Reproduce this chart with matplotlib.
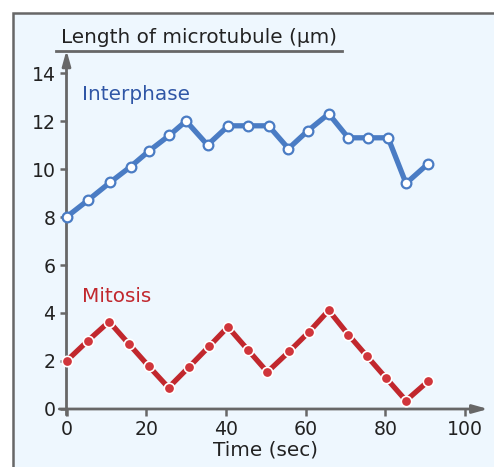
import matplotlib
matplotlib.use("Agg")
import matplotlib.pyplot as plt
from matplotlib.patches import Rectangle
from matplotlib.lines import Line2D

# data
inter_t = [0, 5.4, 11.0, 16.1, 20.7, 25.8, 30.0, 35.4, 40.6, 45.5,
           50.7, 55.7, 60.6, 65.8, 70.7, 75.7, 80.7, 85.2, 90.6]
inter_len = [8.0, 8.7, 9.45, 10.1, 10.75, 11.4, 12.0, 11.0, 11.8, 11.8,
             11.8, 10.85, 11.6, 12.3, 11.3, 11.3, 11.3, 9.4, 10.2]
mito_t = [0, 5.4, 10.7, 15.6, 20.6, 25.6, 30.8, 35.8, 40.5, 45.6,
          50.4, 55.9, 60.9, 65.8, 70.7, 75.4, 80.2, 85.2, 90.7]
mito_len = [2.0, 2.85, 3.64, 2.72, 1.79, 0.89, 1.76, 2.61, 3.42, 2.45,
            1.54, 2.40, 3.22, 4.11, 3.10, 2.2, 1.29, 0.35, 1.15]
xticks = [0, 20, 40, 60, 80, 100]
yticks = [0, 2, 4, 6, 8, 10, 12, 14]

W, H = 494, 467
bg = "#eef7fe"
axis_col = "#676767"
blue = "#4a7cc4"
red = "#c1272d"
fs = 14.4

fig = plt.figure(figsize=(W / 100, H / 100), dpi=100)
fig.patches.append(Rectangle((12.5 / W, -0.1), 1.2, (H - 12.5) / H + 0.1,
                             transform=fig.transFigure, facecolor=bg,
                             edgecolor=axis_col, linewidth=1.8, zorder=-5))

x0px, x1px = 66.5, 465.0
y0px, y14px = 409.0, 73.0
ax = fig.add_axes([x0px / W, (H - y0px) / H, (x1px - x0px) / W, (y0px - y14px) / H])
ax.set_facecolor("none")
ax.set_xlim(0, 100)
ax.set_ylim(0, 14)
for s in ax.spines.values():
    s.set_visible(False)

ax.set_xticks(xticks)
ax.set_yticks(yticks)
ax.tick_params(axis="both", colors=axis_col, width=1.8, length=5, labelsize=13.6,
               labelcolor="#222222", pad=3)

# axis lines with arrows
arrow = dict(arrowstyle="-|>,head_length=0.9,head_width=0.25",
             color=axis_col, lw=2, shrinkA=0, shrinkB=0)
ax.annotate("", xy=(105.8, 0), xytext=(-1.8, 0), arrowprops=arrow,
            annotation_clip=False)
ax.annotate("", xy=(0, 14.95), xytext=(0, -0.25), arrowprops=arrow,
            annotation_clip=False)

# y label with underline
fig.add_artist(Line2D([56 / W, 342 / W], [(H - 51) / H] * 2, color=axis_col, lw=2))
fig.text(61 / W, (H - 43) / H, "Length of microtubule (μm)", fontsize=fs,
         color="#222222", ha="left", va="baseline")

ax.plot(inter_t, inter_len, color=blue, lw=3.8, marker="o", markersize=7,
        markerfacecolor="white", markeredgecolor=blue, markeredgewidth=1.6,
        clip_on=False, zorder=3)
ax.plot(mito_t, mito_len, color=red, lw=3.8, marker="o", markersize=7.5,
        markerfacecolor="#d0353b", markeredgecolor="white", markeredgewidth=1.2,
        clip_on=False, zorder=3)

ax.text(3.9, 13.1, "Interphase", color="#2f56a6", fontsize=fs, va="center", ha="left")
ax.text(3.9, 4.7, "Mitosis", color=red, fontsize=fs, va="center", ha="left")

ax.set_xlabel("Time (sec)", fontsize=fs, color="#222222", labelpad=1)

fig.savefig("out.png", dpi=100)
